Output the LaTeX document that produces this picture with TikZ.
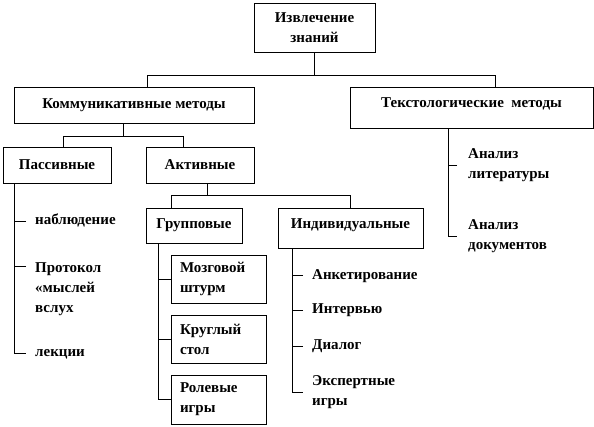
\documentclass[tikz,border=0pt]{standalone}
\usepackage{fontspec}
\setmainfont{Liberation Serif}
\usepackage{xcolor}
\usepackage{tikz}
\definecolor{kmedge}{RGB}{0,0,0}
\definecolor{kmink}{RGB}{0,0,0}
\tikzset{
  kmbox/.style={
    draw=kmedge, line width=0.8pt, align=center, inner sep=0pt,
    text=kmink
  },
  subbox/.style={kmbox, align=left, text width=77pt, minimum width=95pt},
  raised/.style={text height=10.5pt, text depth=10.5pt},
  item/.style={anchor=west, align=left, inner sep=0pt, text=kmink},
  oneline/.style={text height=10.5pt, text depth=3.5pt},
  conn/.style={draw=kmedge, line width=0.8pt},
  tick/.style={conn, shorten <=#1},
  tick/.default=9pt,
  every picture/.append style={font=\bfseries\fontsize{15}{20}\selectfont, line join=miter}
}
\begin{document}
\begin{tikzpicture}[x=1pt, y=-1pt]
  \useasboundingbox (0,0) rectangle (594,426);
  \node[kmbox, minimum width=121pt, minimum height=49pt] (root) at (314.5,27.5) {Извлечение\\знаний};
  \node[kmbox, minimum width=240pt, minimum height=36pt] (comm) at (134,105) {Коммуникативные методы};
  \node[kmbox, raised, minimum width=243pt, minimum height=41pt] (txt) at (471.5,107.5) {Текстологические\ \ методы};
  \node[kmbox, minimum width=108pt, minimum height=36pt] (pas) at (57,165) {Пассивные};
  \node[kmbox, minimum width=108pt, minimum height=36pt] (act) at (200,165) {Активные};
  \node[kmbox, minimum width=96pt, minimum height=35pt] (grp) at (194,225.5) {Групповые};
  \node[kmbox, raised, minimum width=145pt, minimum height=40pt] (ind) at (350.5,228) {Индивидуальные};
  \node[subbox, minimum height=48pt] (brain) at (218.5,279) {Мозговой\\штурм};
  \node[subbox, minimum height=48pt] (round) at (218.5,339) {Круглый\\стол};
  \node[subbox, minimum height=49pt] (role) at (218.5,399.5) {Ролевые\\игры};

  \node[item, oneline] (nab) at (35,221) {наблюдение};
  \node[item, anchor=north west] (prot) at (35,262) {Протокол\\«мыслей\\вслух};
  \node[item, oneline] (lek) at (35,353) {лекции};
  \node[item, oneline] (ank) at (312,275.5) {Анкетирование};
  \node[item, oneline] (intv) at (312,310) {Интервью};
  \node[item, oneline] (dial) at (312,346) {Диалог};
  \node[item] (expg) at (312,392) {Экспертные\\игры};
  \node[item] (alit) at (468,165) {Анализ\\литературы};
  \node[item] (adoc) at (468,236) {Анализ\\документов};

  \coordinate (b0l) at (147,75);
  \coordinate (b0r) at (495,75);
  \coordinate (b1) at (123,136);
  \coordinate (b1l) at (63,136);
  \coordinate (b1r) at (183,136);
  \coordinate (b2) at (207,195);
  \coordinate (b2l) at (171,195);
  \coordinate (b2r) at (350,195);
  \coordinate (pl) at (14,183);
  \coordinate (gl) at (158,243);
  \coordinate (il) at (292,248);
  \coordinate (tl) at (448,128);

  \draw[conn] (root.south) -- (root.south |- b0l);
  \draw[conn] (b0l |- comm.north) |- (b0r) -- (b0r |- txt.north);
  \draw[conn] (b1 |- comm.south) -- (b1);
  \draw[conn] (b1l |- pas.north) |- (b1r) -- (b1r |- act.north);
  \draw[conn] (b2 |- act.south) -- (b2);
  \draw[conn] (b2l |- grp.north) |- (b2r) -- (b2r |- ind.north);

  \draw[conn, shorten >=9pt] (pl) |- (lek.west);
  \draw[tick] (nab.west) -- (nab.west -| pl);
  \draw[tick] ([yshift=-4pt]prot.north west) -- ([yshift=-4pt]prot.north west -| pl);

  \draw[conn] (gl) |- (role.west);
  \draw[conn] (brain.west) -- (brain.west -| gl);
  \draw[conn] (round.west) -- (round.west -| gl);

  \draw[conn, shorten >=9pt] (il) |- (expg.west);
  \draw[tick] (ank.west) -- (ank.west -| il);
  \draw[tick] (intv.west) -- (intv.west -| il);
  \draw[tick] (dial.west) -- (dial.west -| il);

  \draw[conn, shorten >=11pt] (tl) |- (adoc.west);
  \draw[tick=11pt] (alit.west) -- (alit.west -| tl);
\end{tikzpicture}
\end{document}
